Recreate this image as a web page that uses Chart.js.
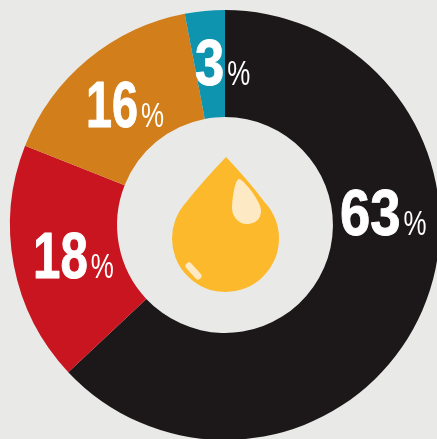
<!DOCTYPE html>
<html>
<head>
<meta charset="utf-8">
<title>Donut</title>
<script src="https://cdn.jsdelivr.net/npm/chart.js@4/dist/chart.umd.min.js"></script>
<style>
    html, body { margin: 0; padding: 0; width: 437px; height: 439px; overflow: hidden; background: #e9e9e8; }
    canvas { display: block; filter: blur(0.4px); }
</style>
</head>
<body>
<canvas id="donutChart" width="450" height="450"></canvas>
<script>
const categories = ["Black", "Red", "Orange", "Teal"];
const values = [63, 18, 16, 3];
const colors = ["#1c1718", "#c8151f", "#d27e1a", "#0f94b0"];

// left edge and baseline of each label, from the chart centre
const labelSpots = [[115, 10], [-192, 53], [-139, -98], [-30, -140]];
// horizontal squeeze of each number, the "1" is very narrow in the original
const labelSqueeze = [0.85, 0.77, 0.73, 0.82];

const dropPlugin = {
    id: "drop",
    afterDraw(chart) {
        const ctx = chart.ctx;
        const { x: cx, y: cy } = chart.getDatasetMeta(0).data[0];
        ctx.save();
        ctx.translate(cx, cy);

        // big drop
        ctx.fillStyle = "#fdb92c";
        ctx.beginPath();
        ctx.moveTo(1, -68);
        ctx.quadraticCurveTo(24, -44, 41, -21);
        ctx.arc(0.5, 13.5, 53.5, -41 * Math.PI / 180, 221 * Math.PI / 180);
        ctx.quadraticCurveTo(-22, -44, 1, -68);
        ctx.closePath();
        ctx.fill();

        // highlights
        ctx.fillStyle = "#fdeac4";
        ctx.beginPath();
        ctx.moveTo(14, -46);
        ctx.bezierCurveTo(18, -46, 36, -24, 36, -14);
        ctx.bezierCurveTo(36, -6, 30, -1, 22, -1);
        ctx.bezierCurveTo(13, -1, 7, -9, 7, -17);
        ctx.bezierCurveTo(7, -26, 10, -46, 14, -46);
        ctx.closePath();
        ctx.fill();

        ctx.strokeStyle = "#fdeac4";
        ctx.lineWidth = 7;
        ctx.lineCap = "round";
        ctx.beginPath();
        ctx.moveTo(-36, 41);
        ctx.lineTo(-27, 51);
        ctx.stroke();

        // labels, squeezed to look condensed
        ctx.fillStyle = "#ffffff";
        ctx.strokeStyle = "#ffffff";
        ctx.lineWidth = 1;
        ctx.lineJoin = "round";
        ctx.textBaseline = "alphabetic";
        ctx.textAlign = "left";
        values.forEach((v, i) => {
            const [lx, ly] = labelSpots[i];
            const txt = String(v);

            ctx.save();
            ctx.translate(lx, ly);
            ctx.scale(labelSqueeze[i], 1);
            ctx.font = "bold 64px 'Liberation Sans'";
            ctx.fillText(txt, 0, 0);
            ctx.strokeText(txt, 0, 0);
            const w = ctx.measureText(txt).width * labelSqueeze[i];
            ctx.restore();

            ctx.save();
            ctx.translate(lx + w + 3, ly);
            ctx.scale(0.74, 1);
            ctx.font = "35px 'Liberation Sans'";
            ctx.fillText("%", 0, 0);
            ctx.restore();
        });
        ctx.restore();
    }
};

new Chart(document.getElementById("donutChart").getContext("2d"), {
    type: "doughnut",
    data: {
        labels: categories,
        datasets: [{
            data: values,
            backgroundColor: colors,
            borderWidth: 0
        }]
    },
    options: {
        responsive: false,
        animation: false,
        cutout: "50.2%",
        radius: 215,
        layout: { padding: 0 },
        plugins: {
            legend: { display: false },
            tooltip: { enabled: false }
        }
    },
    plugins: [dropPlugin]
});
</script>
</body>
</html>
